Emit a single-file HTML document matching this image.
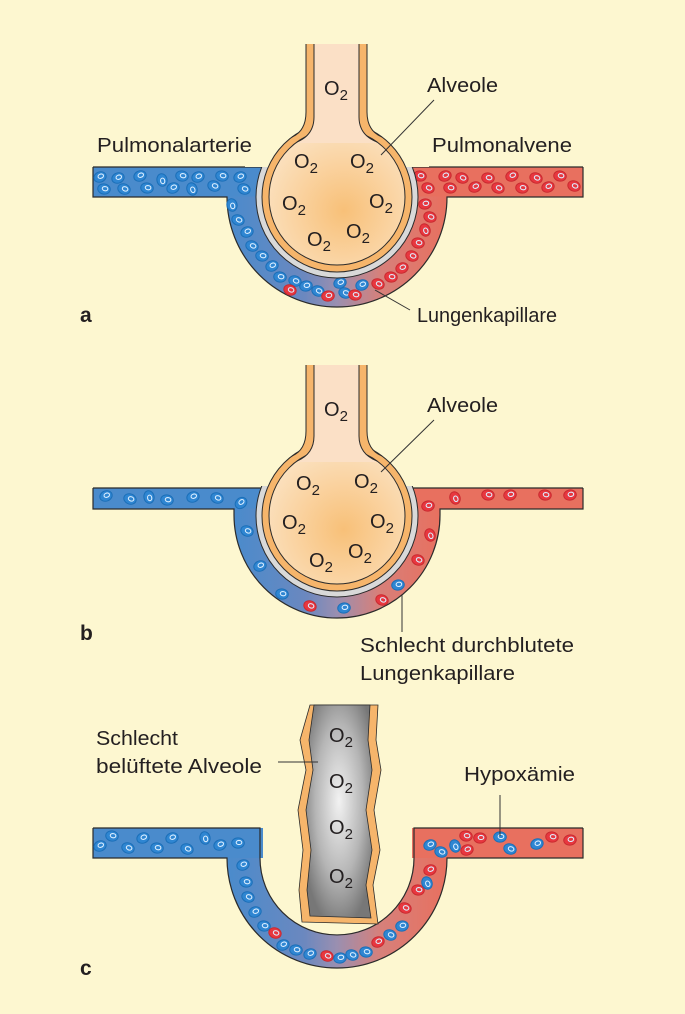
<!DOCTYPE html>
<html><head><meta charset="utf-8"><style>
html,body{margin:0;padding:0;background:#fdf7d0;}
svg{display:block}
text{font-family:"Liberation Sans",sans-serif;fill:#231f20;}
</style></head><body>
<svg id="fig" width="685" height="1014" viewBox="0 0 685 1014" xmlns="http://www.w3.org/2000/svg">
<defs>
<linearGradient id="cap" x1="0" x2="1" y1="0" y2="0">
<stop offset="0" stop-color="#4a8bcc"/><stop offset="0.35" stop-color="#6b88bf"/><stop offset="0.5" stop-color="#9a8fb0"/><stop offset="0.7" stop-color="#d7807a"/><stop offset="1" stop-color="#e8705f"/>
</linearGradient>
<radialGradient id="alv" cx="0.55" cy="0.6" r="0.6"><stop offset="0" stop-color="#f8c078"/><stop offset="1" stop-color="#fbe0bd"/></radialGradient>
<radialGradient id="rod" cx="0.5" cy="0.45" r="0.6"><stop offset="0" stop-color="#f2f2f2"/><stop offset="0.6" stop-color="#b5b5b5"/><stop offset="1" stop-color="#777"/></radialGradient>
</defs>
<rect width="685" height="1014" fill="#fdf7d0"/>
<g id="layer"></g>
</svg>
<script>
const NS='http://www.w3.org/2000/svg';
const L=document.getElementById('layer');
function mk(t,a,p){const e=document.createElementNS(NS,t);for(const k in a)e.setAttribute(k,a[k]);(p||L).appendChild(e);return e;}
const BLUE='#2f86d2',RED='#e8373f';
function cell(x,y,c,rot,p){
 const e=mk('ellipse',{cx:x,cy:y,rx:6.3,ry:5.1,fill:c,stroke:c==BLUE?'#1b6fb8':'#c92a30','stroke-width':1,transform:`rotate(${rot} ${x} ${y})`},p);
 
 
 mk('ellipse',{cx:x+1,cy:y-0.5,rx:2.8,ry:2.1,fill:'none',stroke:'#dbeeff','stroke-width':1.1,transform:`rotate(${rot} ${x} ${y})`},p);
}
function txt(x,y,s,size,p,name,bold,w){const t=mk('text',{x:x,y:y,'font-size':size||20},p);if(bold)t.setAttribute('font-weight','bold');if(w){t.setAttribute('textLength',w);t.setAttribute('lengthAdjust','spacingAndGlyphs');}t.textContent=s;return t;}
function o2(x,y,p){const t=txt(x,y,'O',20,p,'o2-label');const s=mk('tspan',{dy:5,'font-size':15},t);s.textContent='2';}
function line(x1,y1,x2,y2,p){const l=mk('line',{x1,y1,x2,y2,stroke:'#333','stroke-width':1},p);}

function vessels(g,top,bot,cy,R,xl,xr){
 const cx=337;
 mk('rect',{x:93,y:top,width:cx-93,height:bot-top,fill:'#4a8bcc'},g);
 mk('rect',{x:cx,y:top,width:583-cx,height:bot-top,fill:'#e8705f'},g);
 mk('path',{d:`M${cx-R},${bot-0.5} L${cx-R},${cy} A${R},${R} 0 0 0 ${cx+R},${cy} L${cx+R},${bot-0.5} Z`,fill:'url(#cap)'},g);
 const s={fill:'none',stroke:'#2b2b2b','stroke-width':1.2};
 mk('path',Object.assign({d:`M93,${top} L93,${bot} L${cx-R},${bot} L${cx-R},${cy} A${R},${R} 0 0 0 ${cx+R},${cy} L${cx+R},${bot} L583,${bot} L583,${top}`},s),g);
 mk('path',Object.assign({d:`M93,${top} L${xl},${top}`},s),g);
 mk('path',Object.assign({d:`M${xr},${top} L583,${top}`},s),g);
}
function alveole(g,cy,oy){
 const cx=337;
 mk('circle',{cx,cy,r:81,fill:'#d9d9d9',stroke:'#2b2b2b','stroke-width':1},g);
 mk('rect',{x:cx-92,y:cy-130,width:184,height:100,fill:'#fdf7d0'},g);
 const sk={fill:'none',stroke:'#2b2b2b','stroke-width':1};
 // outer wall
 mk('circle',{cx,cy,r:75,fill:'#f6b56b',stroke:'#2b2b2b','stroke-width':1},g);
 mk('path',{d:`M306,${oy} L306,${cy-85} Q306,${cy-66} 292,${cy-59} L382,${cy-59} Q367,${cy-66} 367,${cy-85} L367,${oy} Z`,fill:'#f6b56b'},g);
 mk('path',Object.assign({d:`M306,${oy} L306,${cy-85} Q306,${cy-66} 292,${cy-60}`},sk),g);
 mk('path',Object.assign({d:`M367,${oy} L367,${cy-85} Q367,${cy-66} 382,${cy-60}`},sk),g);
 // inner
 mk('circle',{cx,cy,r:68,fill:'url(#alv)',stroke:'#2b2b2b','stroke-width':1},g);
 mk('path',{d:`M314,${oy} L314,${cy-80} Q314,${cy-62} 297,${cy-54} L377,${cy-54} Q359,${cy-62} 359,${cy-80} L359,${oy} Z`,fill:'#fbe0c6'},g);
 mk('path',Object.assign({d:`M314,${oy} L314,${cy-80} Q314,${cy-62} 297,${cy-55}`},sk),g);
 mk('path',Object.assign({d:`M359,${oy} L359,${cy-80} Q359,${cy-62} 377,${cy-55}`},sk),g);
}
// cell arrays [x, y, colorFlag 0=blue 1=red, rotation]
const cellsA=[[100,177,0,-20],[104,189,0,10],[118,178,0,-20],[124,189,0,20],[140,176,0,-20],[147,188,0,10],[162,180,0,80],[173,188,0,-20],[182,176,0,10],[192,189,0,70],[198,177,0,-20],[214,186,0,20],[222,176,0,10],[240,177,0,-20],[244,189,0,20],[232,205,0,80],[238,220,0,20],[247,232,0,-20],[252,246,0,20],[262,256,0,10],[272,266,0,-20],[280,277,0,10],[295,281,0,20],[290,290,1,20],[306,286,0,-10],[318,291,0,20],[328,296,1,-10],[345,293,0,20],[340,283,0,-20],[355,295,1,10],[362,285,0,-20],[378,284,1,20],[391,277,1,10],[402,268,1,-20],[412,256,1,20],[418,243,1,10],[425,230,1,70],[430,217,1,20],[425,204,1,-10],[420,176,1,10],[428,188,1,20],[445,176,1,-20],[450,188,1,10],[462,178,1,20],[475,187,1,-20],[488,178,1,10],[498,188,1,20],[512,176,1,-20],[522,188,1,10],[536,178,1,20],[548,187,1,-20],[560,176,1,10],[574,186,1,20]];
const cellsB=[[106,496,0,-20],[130,499,0,20],[149,497,0,80],[167,500,0,10],[193,497,0,-20],[217,498,0,20],[241,503,0,-40],[247,531,0,20],[260,566,0,-20],[282,594,0,10],[310,606,1,20],[344,608,0,-10],[382,600,1,20],[398,585,0,-10],[418,560,1,20],[430,535,1,70],[428,506,1,-10],[455,498,1,70],[488,495,1,10],[510,495,1,-10],[545,495,1,10],[570,495,1,-10]];
const cellsC=[[100,846,0,-20],[112,836,0,10],[128,848,0,20],[143,838,0,-20],[157,848,0,10],[172,838,0,-20],[187,849,0,20],[205,838,0,80],[220,845,0,-20],[238,843,0,0],[243,865,0,-20],[246,882,0,10],[248,897,0,20],[255,912,0,-20],[264,926,0,10],[275,933,1,20],[283,945,0,-20],[296,950,0,10],[310,954,0,-20],[327,956,1,20],[340,958,0,-10],[352,955,0,20],[366,952,0,10],[378,942,1,-20],[390,935,0,20],[402,926,0,-10],[405,908,1,20],[418,890,1,10],[427,883,0,70],[430,870,1,-20],[430,845,0,-20],[441,852,0,20],[455,846,0,70],[466,836,1,10],[467,850,1,-20],[480,838,1,0],[500,837,0,0],[510,849,0,20],[537,844,0,-20],[552,837,1,10],[570,840,1,-10]];

function drawCells(arr,g){arr.forEach(c=>cell(c[0],c[1],c[2]?RED:BLUE,c[3],g));}

// Panel a
const ga=mk('g',{});
vessels(ga,167,197,197,110,262,413);
drawCells(cellsA,ga);
alveole(ga,197,44);
[[324,95],[294,168],[350,168],[282,210],[369,208],[307,246],[346,238]].forEach(p=>o2(p[0],p[1],ga));
txt(97,152,'Pulmonalarterie',20,ga,'pulmonalarterie-label',0,155);
txt(432,152,'Pulmonalvene',20,ga,'pulmonalvene-label',0,140);
txt(427,92,'Alveole',20,ga,'alveole-label',0,71);
txt(417,322,'Lungenkapillare',20,ga,'lungenkapillare-label',0,140);
txt(80,322,'a',21,ga,'panel-a-letter',1);
line(434,100,381,155,ga);line(375,290,410,310,ga);

// Panel b
const gb=mk('g',{});
vessels(gb,488,509,515,103,262,413);
drawCells(cellsB,gb);
alveole(gb,516,365);
[[324,416],[296,490],[354,488],[282,529],[370,528],[309,567],[348,558]].forEach(p=>o2(p[0],p[1],gb));
txt(427,412,'Alveole',20,gb,'alveole-label-b',0,71);
txt(80,640,'b',21,gb,'panel-b-letter',1);
txt(360,652,'Schlecht durchblutete',20,gb,'schlecht-durchblutete-label',0,214);
txt(360,680,'Lungenkapillare',20,gb,'lungenkapillare-label-b',0,155);
line(434,420,381,472,gb);line(402,595,402,632,gb);

// Panel c
const gc=mk('g',{});
(function(){const cx=337,R=110,r=77,top=828,bot=858;
 mk('rect',{x:93,y:top,width:170,height:30,fill:'#4a8bcc'},gc);
 mk('rect',{x:412,y:top,width:171,height:30,fill:'#e8705f'},gc);
 mk('path',{d:`M${cx-R},${bot} A${R},${R} 0 0 0 ${cx+R},${bot} L${cx+r},${bot} A${r},${r} 0 0 1 ${cx-r},${bot} Z`,fill:'url(#cap)'},gc);
 mk('path',{d:`M93,${top} L${cx-r},${top} L${cx-r},${bot} A${r},${r} 0 0 0 ${cx+r},${bot} L${cx+r},${top} L583,${top} M93,${top} L93,${bot} L${cx-R},${bot} A${R},${R} 0 0 0 ${cx+R},${bot} L583,${bot} L583,${top}`,fill:'none',stroke:'#2b2b2b','stroke-width':1.2},gc);
})();
drawCells(cellsC,gc);
mk('path',{d:'M310,705 L300,740 L306,770 L298,810 L303,850 L299,890 L302,922 L378,924 L373,885 L380,850 L374,810 L381,770 L376,740 L378,705 Z',fill:'#f6b56b',stroke:'#2b2b2b','stroke-width':0.8},gc);
mk('path',{d:'M314,705 L309,740 L313,770 L306,810 L311,850 L307,890 L310,916 L371,918 L366,885 L372,850 L366,810 L372,770 L368,740 L370,705 Z',fill:'url(#rod)',stroke:'#2b2b2b','stroke-width':0.8},gc);
[[329,742],[329,788],[329,834],[329,883]].forEach(p=>o2(p[0],p[1],gc));
txt(96,745,'Schlecht',20,gc,'schlecht-label',0,82);
txt(96,773,'belüftete Alveole',20,gc,'belueftete-alveole-label',0,166);
txt(464,781,'Hypoxämie',20,gc,'hypoxaemie-label',0,111);
txt(80,975,'c',21,gc,'panel-c-letter',1);
line(278,762,318,762,gc);line(500,795,500,836,gc);
</script>
</body></html>
